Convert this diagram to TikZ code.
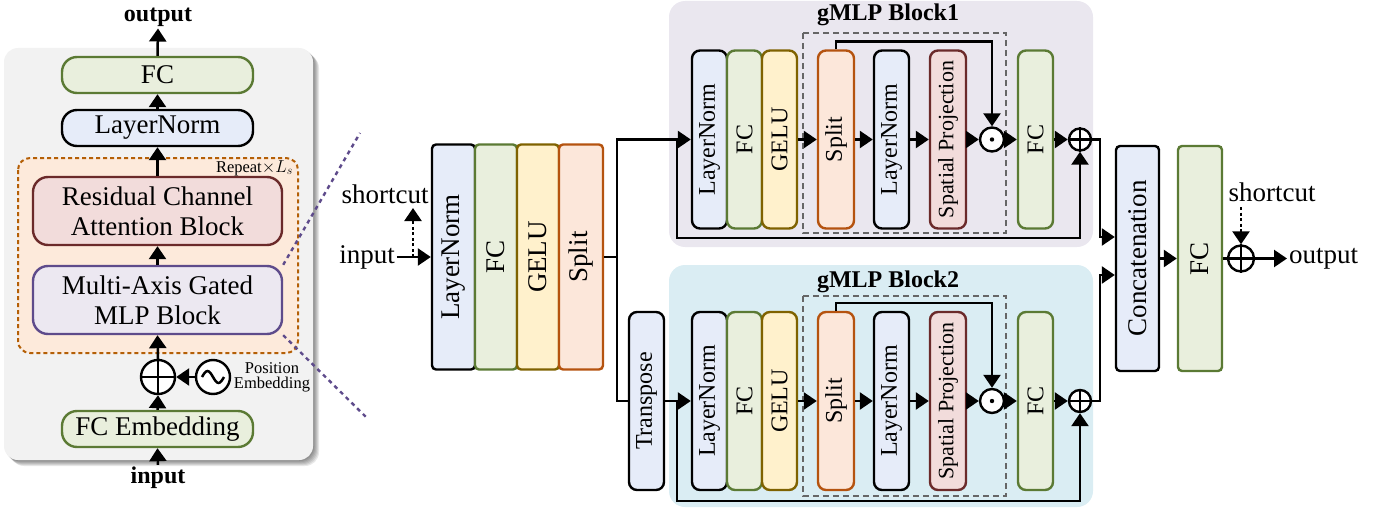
\documentclass[tikz,border=0pt]{standalone}
\usepackage{fontspec}
\setmainfont{Liberation Serif}
\usetikzlibrary{arrows.meta}
\definecolor{fgreen}{HTML}{E9EFDD}
\definecolor{dgreen}{HTML}{5B7A34}
\definecolor{fblue}{HTML}{E6ECF9}
\definecolor{fyellow}{HTML}{FFF1CC}
\definecolor{dyellow}{HTML}{7F6200}
\definecolor{forange}{HTML}{FCE7DA}
\definecolor{dorange}{HTML}{B5530F}
\definecolor{fred}{HTML}{F2DCDB}
\definecolor{dred}{HTML}{6B2A2A}
\definecolor{fpurple}{HTML}{ECE8F1}
\definecolor{dpurple}{HTML}{5E4B8B}
\definecolor{frep}{HTML}{FDEADB}
\definecolor{drep}{HTML}{B45F06}
\definecolor{fpanel}{HTML}{F2F2F2}
\definecolor{fbone}{HTML}{EAE7EF}
\definecolor{fbtwo}{HTML}{DAEDF3}
\definecolor{dgray}{HTML}{666666}
\newcommand\myL{\fontsize{27}{30}\selectfont}
\newcommand\myM{\fontsize{24}{27}\selectfont}
\newcommand\myMs{\fontsize{22}{25}\selectfont}
\newcommand\myB{\fontsize{24}{27}\selectfont\bfseries}
\newcommand\myS{\fontsize{16.5}{15}\selectfont}
\begin{document}
\begin{tikzpicture}[x=1pt,y=-1pt,
  box/.style={draw, rectangle, inner sep=0pt, line width=2.4pt},
  cgreen/.style={box, fill=fgreen, draw=dgreen},
  cblue/.style={box, fill=fblue, draw=black},
  cyellow/.style={box, fill=fyellow, draw=dyellow},
  corange/.style={box, fill=forange, draw=dorange},
  cred/.style={box, fill=fred, draw=dred},
  cpurple/.style={box, fill=fpurple, draw=dpurple},
  bigv/.style={minimum height=225pt, rounded corners=4pt, font=\myL},
  smallv/.style={minimum width=35pt, minimum height=178pt, rounded corners=8pt, font=\myM},
  pill/.style={minimum width=191pt, minimum height=36pt, rounded corners=15pt, font=\myL},
  wide/.style={minimum width=249pt, minimum height=68pt, rounded corners=15pt, font=\myL, align=center},
  txt/.style={inner sep=2pt},
  wire/.style={line width=2.5pt},
  conn/.style={line width=2.5pt, -{Triangle[length=13pt 0 0,width=17pt 0 0]}},
  dconn/.style={conn, dash pattern=on 3pt off 2.5pt},
  opl/.style={circle, draw, line width=2.4pt, inner sep=0pt, fill=white},
]
\useasboundingbox (0,0) rectangle (1383,508);

% ---------------- left panel ----------------
\foreach \i in {1,...,6}
  \fill[black, opacity=0.09, rounded corners=14pt] (4+\i,48+\i) rectangle (313+\i,460+\i);
\fill[fpanel, rounded corners=14pt] (4,48) rectangle (313,460);
\draw[drep, fill=frep, line width=2pt, dash pattern=on 4pt off 3pt, rounded corners=12pt] (18,158) rectangle (298,353);

\node[cgreen, pill] (lfc) at (157.5,75) {FC};
\node[cblue, pill] (lln) at (157.5,128) {LayerNorm};
\node[cred, wide] (rcab) at (157.5,211) {Residual Channel\\Attention Block};
\node[cpurple, wide] (mag) at (157.5,300) {Multi-Axis Gated\\MLP Block};
\node[cgreen, pill] (lfce) at (157.5,429) {FC Embedding};
\node[font=\myS, anchor=east, inner sep=0pt] (rep) at (293,168) {Repeat$\times L_s$};

\node[opl, minimum size=34pt] (lop) at (158,377) {};
\draw[wire] (lop.north) -- (lop.south) (lop.west) -- (lop.east);
\node[opl, minimum size=34pt] (lsin) at (213,377) {};
\draw[wire] ([xshift=-11pt]lsin.center) sin ++(5.5,-6) cos ++(5.5,6) sin ++(5.5,6) cos ++(5.5,-6);
\node[font=\myS, align=center, inner sep=0pt] (lpe) at (272,377) {Position\\Embedding};

\node[txt, font=\myB] (lout) at (158,17) {output};
\node[txt, font=\myB] (lin) at (158,478) {input};

\draw[conn] (lin.north) -- (lfce.south);
\draw[conn] (lfce.north) -- (lop.south);
\draw[conn] (lsin.west) -- (lop.east);
\draw[conn] (lop.north) -- (mag.south);
\draw[conn] (mag.north) -- (rcab.south);
\draw[conn] (rcab.north) -- (lln.south);
\draw[conn] (lln.north) -- (lfc.south);
\draw[conn] (lfc.north) -- (lout.south);

\coordinate (d1) at (360,133);
\coordinate (d2) at (366,417);
\draw[dpurple, line width=2.4pt, dash pattern=on 4pt off 4pt] (mag.north east) -- (d1);
\draw[dpurple, line width=2.4pt, dash pattern=on 4pt off 4pt] (mag.south east) -- (d2);

% ---------------- middle ----------------
\node[cblue, bigv, minimum width=43pt] (mln) at (453.5,257) {\rotatebox{90}{LayerNorm}};
\node[cgreen, bigv, minimum width=42pt] (mfc) at (496,257) {\rotatebox{90}{FC}};
\node[cyellow, bigv, minimum width=42pt] (mge) at (538,257) {\rotatebox{90}{GELU}};
\node[corange, bigv, minimum width=44pt] (msp) at (581,257) {\rotatebox{90}{Split}};

\node[txt, font=\myL] (min) at (367,257) {input};
\node[txt, font=\myL] (msc) at (385,194) {shortcut};
\coordinate (ms0) at (413,257);
\coordinate (ms1) at (413,208);
\draw[conn] (min.east) -- (mln.west);
\draw[dconn] (ms0) -- (ms1);

% ---------------- gMLP Block1 ----------------
\fill[fbone, rounded corners=16pt] (669,1) rectangle (1093,247);
\node[font=\myB] (t1) at (888,15) {gMLP Block1};
\draw[dgray, line width=1.6pt, dash pattern=on 6pt off 4pt] (803,33) rectangle (1006,233);
\node[cblue, smallv] (b1ln) at (709.5,139.5) {\rotatebox{90}{LayerNorm}};
\node[cgreen, smallv] (b1fc) at (744.5,139.5) {\rotatebox{90}{FC}};
\node[cyellow, smallv] (b1ge) at (779.5,139.5) {\rotatebox{90}{GELU}};
\node[corange, smallv, minimum width=36pt] (b1sp) at (836,139.5) {\rotatebox{90}{Split}};
\node[cblue, smallv] (b1lb) at (891.5,139.5) {\rotatebox{90}{LayerNorm}};
\node[cred, smallv, minimum width=36pt, font=\myMs] (b1pr) at (948,139.5) {\rotatebox{90}{Spatial Projection}};
\node[opl, minimum size=24pt] (od1) at (992,139.5) {};
\fill (od1.center) circle (2.2pt);
\node[cgreen, smallv] (b1fo) at (1035.5,139.5) {\rotatebox{90}{FC}};
\node[opl, minimum size=22pt] (op1) at (1080,139.5) {};
\draw[wire] (op1.north) -- (op1.south) (op1.west) -- (op1.east);

% ---------------- gMLP Block2 ----------------
\fill[fbtwo, rounded corners=16pt] (669,265) rectangle (1093,507);
\node[font=\myB] (t2) at (888,282) {gMLP Block2};
\draw[dgray, line width=1.6pt, dash pattern=on 6pt off 4pt] (803,296) rectangle (1006,496);
\node[cblue, smallv, minimum height=178pt] (tr) at (646.5,401) {\rotatebox{90}{Transpose}};
\node[cblue, smallv] (b2ln) at (709.5,401) {\rotatebox{90}{LayerNorm}};
\node[cgreen, smallv] (b2fc) at (744.5,401) {\rotatebox{90}{FC}};
\node[cyellow, smallv] (b2ge) at (779.5,401) {\rotatebox{90}{GELU}};
\node[corange, smallv, minimum width=36pt] (b2sp) at (836,401) {\rotatebox{90}{Split}};
\node[cblue, smallv] (b2lb) at (891.5,401) {\rotatebox{90}{LayerNorm}};
\node[cred, smallv, minimum width=36pt, font=\myMs] (b2pr) at (948,401) {\rotatebox{90}{Spatial Projection}};
\node[opl, minimum size=24pt] (od2) at (992,401) {};
\fill (od2.center) circle (2.2pt);
\node[cgreen, smallv] (b2fo) at (1035.5,401) {\rotatebox{90}{FC}};
\node[opl, minimum size=22pt] (op2) at (1080,401) {};
\draw[wire] (op2.north) -- (op2.south) (op2.west) -- (op2.east);

% ---------------- right ----------------
\node[cblue, bigv, minimum width=43pt] (cc) at (1137.5,258.5) {\rotatebox{90}{Concatenation}};
\node[cgreen, bigv, minimum width=44pt] (ffc) at (1200,258.5) {\rotatebox{90}{FC}};
\node[opl, minimum size=26pt] (opf) at (1241,258.5) {};
\draw[wire] (opf.north) -- (opf.south) (opf.west) -- (opf.east);
\node[txt, font=\myL, anchor=west] (fout) at (1287,258.5) {output};
\node[txt, font=\myL] (fsc) at (1272,192) {shortcut};
\coordinate (fs0) at (1241,207);

% ---------------- connectors ----------------
\coordinate (j) at (617,257);
\coordinate (jt) at (617,139.5);
\coordinate (jb) at (617,401);
\draw[wire] (msp.east) -- (j);
\draw[conn] (j) -- (jt) -- (b1ln.west);
\draw[wire] (j) -- (jb) -- (tr.west);
\draw[conn] (tr.east) -- (b2ln.west);

\coordinate (r1) at (677,139.5);
\coordinate (r2) at (677,401);
\draw[conn] (r1) -- ++(0,98.5) -| (op1.south);
\draw[conn] (r2) -- ++(0,100) -| (op2.south);

\foreach \b in {1,2}{
  \draw[conn] (b\b ge.east) -- (b\b sp.west);
  \draw[conn] (b\b sp.east) -- (b\b lb.west);
  \draw[conn] (b\b lb.east) -- (b\b pr.west);
  \draw[conn] (b\b pr.east) -- (od\b.west);
  \draw[conn] (od\b.east) -- (b\b fo.west);
  \draw[conn] (b\b fo.east) -- (op\b.west);
  \draw[conn] (b\b sp.north) -- ++(0,-8) -| (od\b.north);
}

\coordinate (ci1) at (1100,237);
\coordinate (ci2) at (1100,275);
\draw[conn] (op1.east) -| (ci1) -- (ci1 -| cc.west);
\draw[conn] (op2.east) -| (ci2) -- (ci2 -| cc.west);
\draw[conn] (cc.east) -- (ffc.west);
\draw[wire] (ffc.east) -- (opf.west);
\draw[conn] (opf.east) -- (fout.west);
\draw[dconn] (fs0) -- (opf.north);
\end{tikzpicture}
\end{document}
